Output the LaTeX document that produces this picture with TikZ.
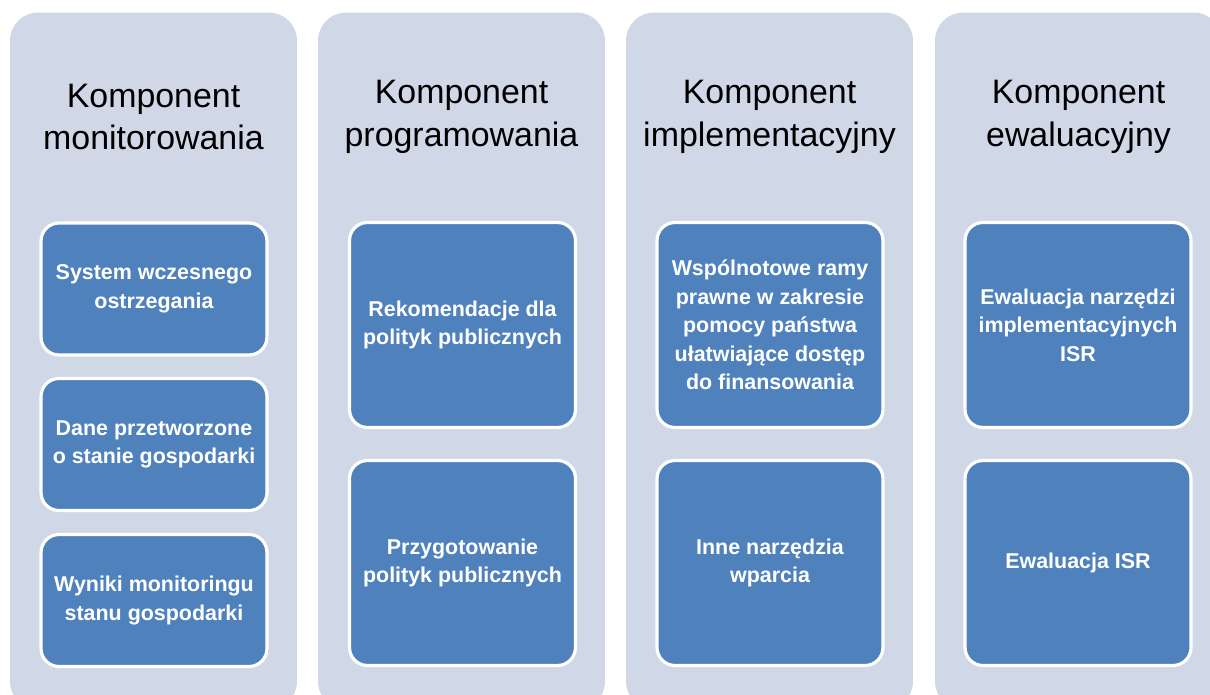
\documentclass[tikz,border=0pt]{standalone}
\usepackage{fontspec}
\setmainfont{Liberation Sans}
\usetikzlibrary{positioning}
\definecolor{kolumna}{HTML}{D0D8E8}
\definecolor{pudelko}{HTML}{4F81BD}

\begin{document}
\begin{tikzpicture}[x=0.02cm,y=-0.02cm,
  kolumna/.style={fill=kolumna,rounded corners=0.56cm,minimum width=5.74cm,minimum height=13.94cm,inner sep=0pt},
  tytul/.style={align=center,font=\fontsize{19.3}{24.2}\selectfont,text=black},
  pudelko/.style={fill=pudelko,draw=white,line width=1.8pt,rounded corners=0.36cm,minimum width=4.52cm,
    align=center,text=white,font=\bfseries\fontsize{12.2}{16.2}\selectfont,inner sep=2pt},
  maly/.style={pudelko,minimum height=2.64cm},
  duzy/.style={pudelko,minimum height=4.1cm}]
\useasboundingbox (0,0) rectangle (1210,695);
\clip (0,0) rectangle (1210,695);
% kolumny
\node[kolumna] (k1) at (153.5,361) {};
\node[kolumna] (k2) at (461.5,361) {};
\node[kolumna] (k3) at (769.5,361) {};
\node[kolumna] (k4) at (1078.5,361) {};
% tytuly
\node[tytul] (t1) at (153.5,117) {Komponent\\monitorowania};
\node[tytul] (t2) at (461.5,117) {Komponent\\programowania};
\node[tytul] (t3) at (769.5,117) {Komponent\\implementacyjny};
\node[tytul] (t4) at (1078.5,117) {Komponent\\ewaluacyjny};
% monitorowanie
\node[maly] (m1) at (154,289) {System wczesnego\\ostrzegania};
\node[maly] (m2) at (154,444.5) {Dane przetworzone\\o stanie gospodarki};
\node[maly] (m3) at (154,600.5) {Wyniki monitoringu\\stanu gospodarki};
% programowanie
\node[duzy] (p1) at (462.5,325) {Rekomendacje dla\\polityk publicznych};
\node[duzy] (p2) at (462.5,563) {Przygotowanie\\polityk publicznych};
% implementacja
\node[duzy] (i1) at (770,325) {Wspólnotowe ramy\\prawne w zakresie\\pomocy państwa\\ułatwiające dostęp\\do finansowania};
\node[duzy] (i2) at (770,563) {Inne narzędzia\\wparcia};
% ewaluacja
\node[duzy] (e1) at (1078,325) {Ewaluacja narzędzi\\implementacyjnych\\ISR};
\node[duzy] (e2) at (1078,563) {Ewaluacja ISR};
\end{tikzpicture}
\end{document}
